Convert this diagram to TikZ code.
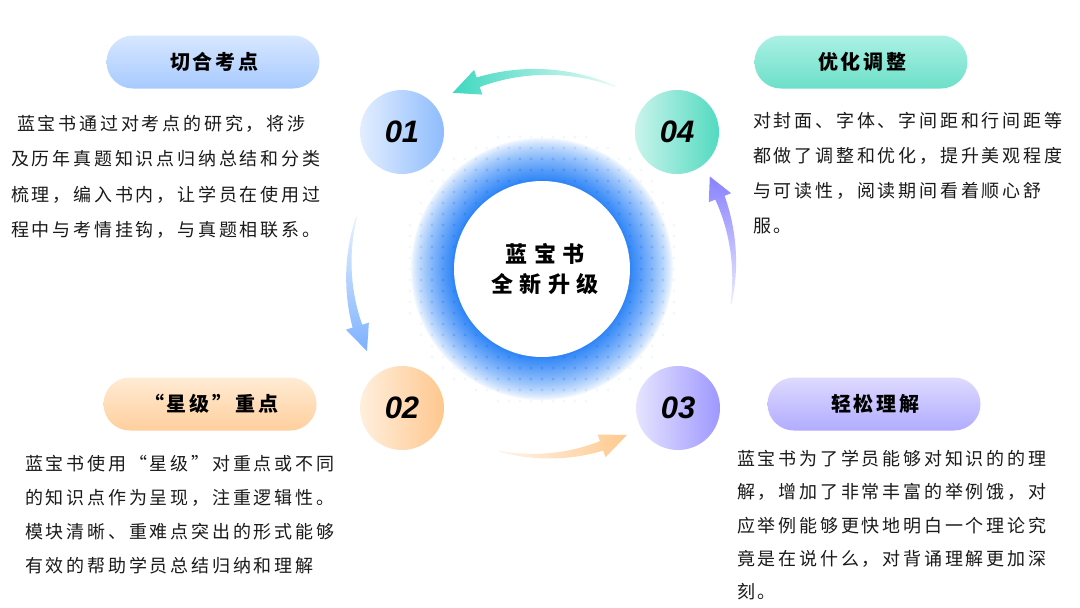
\documentclass[tikz,border=0pt]{standalone}
\usepackage{fontspec}
\setmainfont{Noto Sans CJK SC}
\newfontfamily\bodyfont{Noto Sans CJK SC}[LetterSpace=15.5]
\newfontfamily\pillfont{Noto Sans CJK SC}[LetterSpace=15]
\newfontfamily\centerfont{Noto Sans CJK SC}[LetterSpace=30]
\newfontfamily\numfont{Liberation Sans}
\definecolor{txt}{HTML}{1A1A1A}
\definecolor{ringblue}{HTML}{2C84F7}
\definecolor{dotblue}{HTML}{2A78EE}
\definecolor{pbT}{HTML}{D7E7FF}\definecolor{pbB}{HTML}{A7CAFF}
\definecolor{ptT}{HTML}{ABF1E4}\definecolor{ptB}{HTML}{6CDFC8}
\definecolor{poT}{HTML}{FFEBD4}\definecolor{poB}{HTML}{FFCF9D}
\definecolor{ppT}{HTML}{DEDAFF}\definecolor{ppB}{HTML}{B1ACFF}
\definecolor{cbL}{HTML}{E3EEFF}\definecolor{cbR}{HTML}{8EBCFD}
\definecolor{ctL}{HTML}{C9F4EC}\definecolor{ctR}{HTML}{52DAC0}
\definecolor{coL}{HTML}{FFEFDD}\definecolor{coR}{HTML}{FFC78E}
\definecolor{cpL}{HTML}{E6E4FF}\definecolor{cpR}{HTML}{9E98FF}
\definecolor{tealA}{HTML}{3ED8C0}\definecolor{tealL}{HTML}{E6FAF6}
\definecolor{blueA}{HTML}{7DB1FF}\definecolor{blueL}{HTML}{E8F1FF}
\definecolor{orA}{HTML}{FFC98E}\definecolor{orL}{HTML}{FFF4EA}
\definecolor{purA}{HTML}{8882FF}\definecolor{purL}{HTML}{ECEBFF}
\tikzset{
  pill/.style={rectangle, rounded corners=26.5pt, minimum width=213pt, minimum height=53pt,
    inner sep=0pt, text=black, font=\pillfont\bfseries\fontsize{20}{24}\selectfont},
  numc/.style={circle, minimum size=84pt, inner sep=0pt, text=black,
    font=\numfont\bfseries\itshape\fontsize{31}{31}\selectfont},
  body/.style={anchor=north west, inner sep=0pt, align=left, text=txt},
  core/.style={circle, fill=white, minimum size=176pt, inner sep=0pt, align=center, text=black}
}
% tapered curved arrow around the centre (541,270); angles in degrees, y up
\newcommand\swoosh[7]{%
\shade[#1] plot[domain=#2:#3,samples=30] ({541+(#5+0.5+(#6-0.5)*(\x-#2)/(#3-#2))*cos(\x)},{270-(#5+0.5+(#6-0.5)*(\x-#2)/(#3-#2))*sin(\x)})
 -- ({541+(#5+#7)*cos(#3)},{270-(#5+#7)*sin(#3)})
 -- ({541+#5*cos(#4)},{270-#5*sin(#4)})
 -- ({541+(#5-#7)*cos(#3)},{270-(#5-#7)*sin(#3)})
 -- plot[domain=#3:#2,samples=30] ({541+(#5-0.5-(#6-0.5)*(\x-#2)/(#3-#2))*cos(\x)},{270-(#5-0.5-(#6-0.5)*(\x-#2)/(#3-#2))*sin(\x)}) -- cycle;}
\begin{document}
\begin{tikzpicture}[x=1pt,y=-1pt]
\useasboundingbox (0,0) rectangle (1080,608);
\fill[white] (0,0) rectangle (1080,608);
% glowing ring
\foreach \r in {132,131,...,88}{
  \pgfmathsetmacro\p{100*(1-(\r-88)/44)^0.75}
  \fill[ringblue!\p!white] (542,269) circle[radius=\r];}
\foreach \i in {-13,...,13}{\foreach \j in {-13,...,13}{
  \pgfmathsetmacro\d{11*sqrt(\i*\i+\j*\j)}
  \pgfmathsetmacro\o{max(0.06,min(0.5,0.5*(1-(\d-88)/50)))}
  \ifdim\d pt>84pt \ifdim\d pt<143pt
    \fill[dotblue, opacity=\o] ({542+11*\i},{269+11*\j}) circle[radius=1.7];
  \fi\fi}}
\node[core, font=\centerfont\bfseries\fontsize{22}{30}\selectfont] (core) at (542,269) {\hspace{6pt}蓝宝书\\\hspace{6pt}全新升级};
% arrows
\swoosh{left color=tealA, right color=tealL}{68}{108.5}{116.5}{198}{5}{13}
\swoosh{top color=blueL, bottom color=blueA}{164}{197}{205}{192}{5}{12}
\swoosh{left color=orL, right color=orA}{257}{289}{297.5}{186}{5}{12}
\swoosh{top color=purA, bottom color=purL}{-10}{22}{29}{193}{5}{12}
% number circles
\node[numc, left color=cbL, right color=cbR] (n1) at (402,132) {01};
\node[numc, left color=ctL, right color=ctR] (n4) at (677,132) {04};
\node[numc, left color=coL, right color=coR] (n2) at (402,408) {02};
\node[numc, left color=cpL, right color=cpR] (n3) at (678,408) {03};
% pills
\node[pill, top color=pbT, bottom color=pbB] (p1) at (213,62) {\hspace{3pt}切合考点};
\node[pill, top color=ptT, bottom color=ptB] (p4) at (861,62) {\hspace{3pt}优化调整};
\node[pill, top color=poT, bottom color=poB] (p2) at (210,404) {\hspace{3pt}“星级”重点};
\node[pill, top color=ppT, bottom color=ppB] (p3) at (874,404) {\hspace{3pt}轻松理解};
% body texts
\node[body, font=\bodyfont\fontsize{18}{35.5}\selectfont] (t1) at (11,115) {\hspace{6pt}蓝宝书通过对考点的研究，将涉\\及历年真题知识点归纳总结和分类\\梳理，编入书内，让学员在使用过\\程中与考情挂钩，与真题相联系。};
\node[body, font=\bodyfont\fontsize{18}{35}\selectfont] (t4) at (753,112) {对封面、字体、字间距和行间距等\\都做了调整和优化，提升美观程度\\与可读性，阅读期间看着顺心舒\\服。};
\node[body, font=\bodyfont\fontsize{18}{34}\selectfont] (t2) at (25,455) {蓝宝书使用“星级”对重点或不同\\的知识点作为呈现，注重逻辑性。\\模块清晰、重难点突出的形式能够\\有效的帮助学员总结归纳和理解};
\node[body, font=\bodyfont\fontsize{18}{33.3}\selectfont] (t3) at (737,450) {蓝宝书为了学员能够对知识的的理\\解，增加了非常丰富的举例饿，对\\应举例能够更快地明白一个理论究\\竟是在说什么，对背诵理解更加深\\刻。};
\end{tikzpicture}
\end{document}
